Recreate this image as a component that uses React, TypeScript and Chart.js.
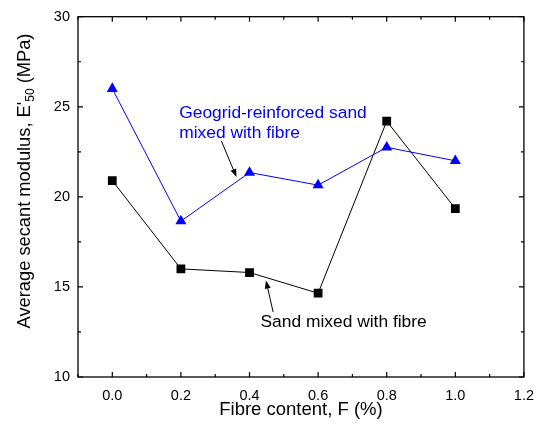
import React, { useEffect, useRef } from "react";
import { Chart, registerables } from "chart.js";

Chart.register(...registerables);

const fibreContent = [0.0, 0.2, 0.4, 0.6, 0.8, 1.0];
const sandWithFibre = [20.9, 16.0, 15.8, 14.65, 24.2, 19.35];
const geogridWithFibre = [26.0, 18.65, 21.35, 20.65, 22.75, 22.0];
const xTicks = [0.0, 0.2, 0.4, 0.6, 0.8, 1.0, 1.2];
const xMinorTicks = [-0.1, 0.1, 0.3, 0.5, 0.7, 0.9, 1.1];
const yTicks = [10, 15, 20, 25, 30];
const yMinorTicks = [12.5, 17.5, 22.5, 27.5];

const xTitle = "Fibre content, F (%)";
const yTitleParts = ["Average secant modulus, E'", "50", " (MPa)"];
const geogridLabel = ["Geogrid-reinforced sand", "mixed with fibre"];
const sandLabel = ["Sand mixed with fibre"];

// annotation anchors in data units (baseline of first line)
const geogridLabelPos = { x: 0.195, y: 24.4 };
const geogridArrow = { from: { x: 0.318, y: 23.1 }, to: { x: 0.362, y: 21.1 } };
const sandLabelPos = { x: 0.432, y: 12.8 };
const sandArrow = { from: { x: 0.469, y: 13.6 }, to: { x: 0.448, y: 15.35 } };

const FONT = "'Liberation Sans', Arial, sans-serif";

function drawArrow(ctx: CanvasRenderingContext2D, x1: number, y1: number, x2: number, y2: number) {
  const ang = Math.atan2(y2 - y1, x2 - x1);
  const hl = 8;
  const hw = 3;
  ctx.save();
  ctx.strokeStyle = "#000";
  ctx.fillStyle = "#000";
  ctx.lineWidth = 1;
  ctx.beginPath();
  ctx.moveTo(x1, y1);
  ctx.lineTo(x2 - Math.cos(ang) * hl * 0.8, y2 - Math.sin(ang) * hl * 0.8);
  ctx.stroke();
  ctx.beginPath();
  ctx.moveTo(x2, y2);
  ctx.lineTo(x2 - Math.cos(ang) * hl + Math.sin(ang) * hw, y2 - Math.sin(ang) * hl - Math.cos(ang) * hw);
  ctx.lineTo(x2 - Math.cos(ang) * hl - Math.sin(ang) * hw, y2 - Math.sin(ang) * hl + Math.cos(ang) * hw);
  ctx.closePath();
  ctx.fill();
  ctx.restore();
}

const framePlugin = {
  id: "frameTicks",
  afterDraw(chart: any) {
    const ctx: CanvasRenderingContext2D = chart.ctx;
    const { left, right, top, bottom } = chart.chartArea;
    const xs = chart.scales.x;
    const ys = chart.scales.y;
    ctx.save();
    ctx.strokeStyle = "#000";
    ctx.lineWidth = 1.3;
    ctx.strokeRect(left, top, right - left, bottom - top);
    ctx.lineWidth = 1.2;
    ctx.beginPath();
    const tick = (x1: number, y1: number, x2: number, y2: number) => {
      ctx.moveTo(x1, y1);
      ctx.lineTo(x2, y2);
    };
    xTicks.forEach((v) => {
      const px = xs.getPixelForValue(v);
      tick(px, bottom, px, bottom - 5);
      tick(px, top, px, top + 5);
    });
    xMinorTicks.forEach((v) => {
      const px = xs.getPixelForValue(v);
      tick(px, bottom, px, bottom - 3);
      tick(px, top, px, top + 3);
    });
    yTicks.forEach((v) => {
      const py = ys.getPixelForValue(v);
      tick(left, py, left + 5, py);
      tick(right, py, right - 5, py);
    });
    yMinorTicks.forEach((v) => {
      const py = ys.getPixelForValue(v);
      tick(left, py, left + 3, py);
      tick(right, py, right - 3, py);
    });
    ctx.stroke();

    // x title
    ctx.fillStyle = "#000";
    ctx.font = `18.5px ${FONT}`;
    ctx.textAlign = "center";
    ctx.textBaseline = "middle";
    ctx.fillText(xTitle, (left + right) / 2, bottom + 33);

    // y title with subscript
    ctx.save();
    ctx.translate(25, 181);
    ctx.rotate(-Math.PI / 2);
    const big = `18.3px ${FONT}`;
    const small = `12px ${FONT}`;
    ctx.font = big;
    const w0 = ctx.measureText(yTitleParts[0]).width;
    const w2 = ctx.measureText(yTitleParts[2]).width;
    ctx.font = small;
    const w1 = ctx.measureText(yTitleParts[1]).width;
    const total = w0 + w1 + w2;
    let cx = -total / 2;
    ctx.textAlign = "left";
    ctx.textBaseline = "middle";
    ctx.font = big;
    ctx.fillText(yTitleParts[0], cx, 0);
    cx += w0;
    ctx.font = small;
    ctx.fillText(yTitleParts[1], cx, 6);
    cx += w1;
    ctx.font = big;
    ctx.fillText(yTitleParts[2], cx, 0);
    ctx.restore();

    // annotations
    ctx.font = `17.4px ${FONT}`;
    ctx.textAlign = "left";
    ctx.textBaseline = "alphabetic";
    ctx.fillStyle = "#0000ff";
    geogridLabel.forEach((line, i) => {
      ctx.fillText(line, xs.getPixelForValue(geogridLabelPos.x), ys.getPixelForValue(geogridLabelPos.y) + i * 20);
    });
    ctx.fillStyle = "#000";
    sandLabel.forEach((line, i) => {
      ctx.fillText(line, xs.getPixelForValue(sandLabelPos.x), ys.getPixelForValue(sandLabelPos.y) + i * 20);
    });
    drawArrow(ctx, xs.getPixelForValue(geogridArrow.from.x), ys.getPixelForValue(geogridArrow.from.y), xs.getPixelForValue(geogridArrow.to.x), ys.getPixelForValue(geogridArrow.to.y));
    drawArrow(ctx, xs.getPixelForValue(sandArrow.from.x), ys.getPixelForValue(sandArrow.from.y), xs.getPixelForValue(sandArrow.to.x), ys.getPixelForValue(sandArrow.to.y));
    ctx.restore();
  },
};

export default function App() {
  const ref = useRef<HTMLCanvasElement>(null);
  useEffect(() => {
    const chart = new Chart(ref.current!, {
      type: "line",
      data: {
        datasets: [
          {
            label: "Sand mixed with fibre",
            data: fibreContent.map((x, i) => ({ x, y: sandWithFibre[i] })),
            borderColor: "#000",
            backgroundColor: "#000",
            borderWidth: 1,
            pointStyle: "rect",
            pointRadius: 6.2,
            pointBorderWidth: 0,
          },
          {
            label: "Geogrid-reinforced sand mixed with fibre",
            data: fibreContent.map((x, i) => ({ x, y: geogridWithFibre[i] })),
            borderColor: "#0000ff",
            backgroundColor: "#0000ff",
            borderWidth: 1,
            pointStyle: "triangle",
            pointRadius: 6.4,
            pointBorderWidth: 0,
          },
        ],
      },
      options: {
        animation: false,
        responsive: false,
        devicePixelRatio: 1,
        layout: { padding: { top: 13, right: 15, left: 0, bottom: 0 } },
        plugins: { legend: { display: false }, tooltip: { enabled: false } },
        scales: {
          x: {
            type: "linear",
            min: -0.1,
            max: 1.2,
            grid: { display: false, drawTicks: false },
            border: { display: false },
            afterBuildTicks: (s: any) => {
              s.ticks = xTicks.map((v) => ({ value: v }));
            },
            afterFit: (s: any) => {
              s.height = 52;
            },
            ticks: {
              padding: 10,
              color: "#000",
              font: { family: FONT, size: 14.5 },
              maxRotation: 0,
              callback: (v: any) => Number(v).toFixed(1),
            },
          },
          y: {
            type: "linear",
            min: 10,
            max: 30,
            grid: { display: false, drawTicks: false },
            border: { display: false },
            afterBuildTicks: (s: any) => {
              s.ticks = yTicks.map((v) => ({ value: v }));
            },
            afterFit: (s: any) => {
              s.width = 78;
            },
            ticks: {
              padding: 8,
              color: "#000",
              font: { family: FONT, size: 14.5 },
              callback: (v: any) => String(v),
            },
          },
        },
      },
      plugins: [framePlugin],
    });
    return () => chart.destroy();
  }, []);
  return (
    <div style={{ position: "fixed", left: 0, top: 0, width: 544, height: 429, background: "#fff" }}>
      <canvas ref={ref} width={544} height={429} />
    </div>
  );
}
